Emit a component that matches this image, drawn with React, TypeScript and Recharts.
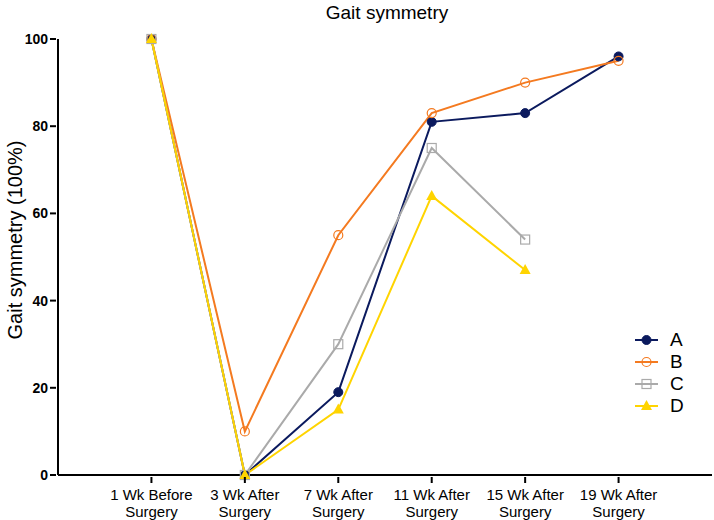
import { LineChart, Line, XAxis, YAxis } from 'recharts';

const categories = [
  '1 Wk Before Surgery',
  '3 Wk After Surgery',
  '7 Wk After Surgery',
  '11 Wk After Surgery',
  '15 Wk After Surgery',
  '19 Wk After Surgery',
];
const seriesA = [100, 0, 19, 81, 83, 96];
const seriesB = [100, 10, 55, 83, 90, 95];
const seriesC = [100, 0, 30, 75, 54, null];
const seriesD = [100, 0, 15, 64, 47, null];
const yTicks = [0, 20, 40, 60, 80, 100];

const COLORS = {
  A: '#0b1a5e',
  B: '#f47a20',
  C: '#aaaaaa',
  D: '#ffd400',
};

const data = categories.map((name, i) => ({
  x: i + 1,
  name,
  A: seriesA[i],
  B: seriesB[i],
  C: seriesC[i],
  D: seriesD[i],
}));

const FONT = 'Arial, "Liberation Sans", sans-serif';

// tick y comes in a few px below the axis line, so draw relative to that
const XTick = (props: any) => {
  const { x, y, payload } = props;
  const label = categories[payload.value - 1] || '';
  const parts = label.split(' Surgery');
  return (
    <g transform={`translate(${x},${y})`}>
      <line x1={0} y1={-6} x2={0} y2={0} stroke="#000" strokeWidth={2} />
      <text textAnchor="middle" fontFamily={FONT} fontSize={15} fill="#000">
        <tspan x={0} y={17}>{parts[0]}</tspan>
        <tspan x={0} y={34}>Surgery</tspan>
      </text>
    </g>
  );
};

const YTick = (props: any) => {
  const { x, y, payload } = props;
  return (
    <g transform={`translate(${x},${y})`}>
      <line x1={0} y1={0} x2={6} y2={0} stroke="#000" strokeWidth={2} />
      <text x={-2} y={5} textAnchor="end" fontFamily={FONT} fontSize={14} fontWeight="bold" fill="#000">
        {payload.value}
      </text>
    </g>
  );
};

const Marker = ({ cx, cy, kind, color }: any) => {
  if (cx == null || cy == null) return null;
  if (kind === 'A') return <circle cx={cx} cy={cy} r={4.5} fill={color} stroke={color} />;
  if (kind === 'B') return <circle cx={cx} cy={cy} r={4.5} fill="#fff" fillOpacity={0} stroke={color} strokeWidth={1.2} />;
  if (kind === 'C') return <rect x={cx - 4.5} y={cy - 4.5} width={9} height={9} fill="none" stroke={color} strokeWidth={1.2} />;
  return <polygon points={`${cx},${cy - 6} ${cx - 5.5},${cy + 4} ${cx + 5.5},${cy + 4}`} fill={color} />;
};

const makeDot = (kind: string) => (p: any) => (
  <Marker key={`${kind}-${p.index}`} cx={p.cx} cy={p.cy} kind={kind} color={(COLORS as any)[kind]} />
);

const legendKeys = ['A', 'B', 'C', 'D'];

export default function App() {
  return (
    <div style={{ position: 'absolute', left: 0, top: 0, width: 714, height: 520, background: '#fff' }}>
      <LineChart width={714} height={520} data={data} margin={{ top: 39, right: 2, bottom: 0, left: 0 }}>
        <text x={387} y={19} textAnchor="middle" fontFamily={FONT} fontSize={19} fill="#000">
          Gait symmetry
        </text>
        <text
          x={0}
          y={0}
          transform="translate(22,240) rotate(-90)"
          textAnchor="middle"
          fontFamily={FONT}
          fontSize={20}
          fill="#000"
        >
          Gait symmetry (100%)
        </text>
        <XAxis
          dataKey="x"
          type="number"
          domain={[0, 7]}
          ticks={[1, 2, 3, 4, 5, 6]}
          height={45}
          axisLine={{ stroke: '#000', strokeWidth: 2 }}
          tickLine={false}
          tick={<XTick />}
          interval={0}
        />
        <YAxis
          type="number"
          domain={[0, 100]}
          ticks={yTicks}
          width={58}
          axisLine={{ stroke: '#000', strokeWidth: 2 }}
          tickLine={false}
          tick={<YTick />}
          interval={0}
        />
        <Line dataKey="A" stroke={COLORS.A} strokeWidth={2} dot={makeDot('A')} activeDot={false} isAnimationActive={false} />
        <Line dataKey="B" stroke={COLORS.B} strokeWidth={2} dot={makeDot('B')} activeDot={false} isAnimationActive={false} />
        <Line dataKey="C" stroke={COLORS.C} strokeWidth={2} dot={makeDot('C')} activeDot={false} isAnimationActive={false} />
        <Line dataKey="D" stroke={COLORS.D} strokeWidth={2} dot={makeDot('D')} activeDot={false} isAnimationActive={false} />
        <g>
          {legendKeys.map((k, i) => {
            const cy = 340 + i * 22;
            return (
              <g key={k}>
                <line x1={635} y1={cy} x2={658} y2={cy} stroke={(COLORS as any)[k]} strokeWidth={2} />
                <Marker cx={646.5} cy={cy} kind={k} color={(COLORS as any)[k]} />
                <text x={670} y={cy + 6} fontFamily={FONT} fontSize={19} fill="#000">{k}</text>
              </g>
            );
          })}
        </g>
      </LineChart>
    </div>
  );
}
